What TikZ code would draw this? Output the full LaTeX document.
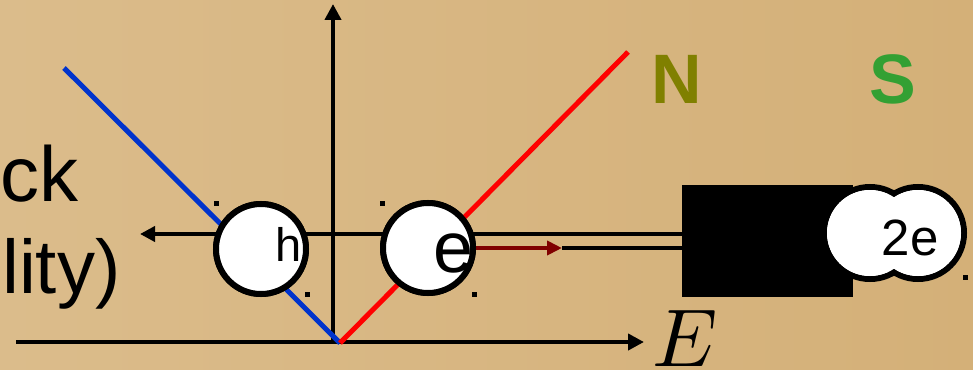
\documentclass[tikz,border=0pt]{standalone}
\usepackage{fontspec}
\setmainfont{Liberation Sans}
\usetikzlibrary{arrows.meta}
\definecolor{bgl}{RGB}{219,188,139}
\definecolor{bgr}{RGB}{212,176,120}
\definecolor{axblue}{RGB}{0,51,204}
\definecolor{darkred}{RGB}{128,0,0}
\definecolor{nolive}{RGB}{128,128,0}
\definecolor{sgreen}{RGB}{51,160,51}
\begin{document}
\begin{tikzpicture}[x=1pt,y=-1pt,
  axis/.style={line width=4.5pt,-{Triangle[length=16pt,width=16pt]}},
  branch/.style={line width=5pt},
  wire/.style={line width=4.5pt},
  particle/.style={circle,draw=black,fill=white,line width=6pt,minimum size=90pt,inner sep=0pt},
  lbl/.style={inner sep=0pt,anchor=base},
  dotmark/.style={fill=black,minimum size=5pt,inner sep=0pt,rectangle}]
\useasboundingbox (0,0) rectangle (973,369);
\shade[left color=bgl,right color=bgr] (0,0) rectangle (973,369);
% axes
\coordinate (o) at (333,343);
\coordinate (ytip) at (333,4);
\coordinate (xo) at (16,342);
\coordinate (xtip) at (644,342);
\draw[axis] (o) -- (ytip);
\draw[axis] (xo) -- (xtip);
% dispersion branches
\coordinate (v) at (340,343);
\coordinate (bl) at (64,68);
\coordinate (rr) at (628,52);
\draw[branch,axblue] (bl) -- (v);
\draw[branch,red] (v) -- (rr);
% box
\node[fill=black,minimum width=171pt,minimum height=112pt,inner sep=0pt] (box) at (767.5,241) {};
% particles
\node[particle] (h) at (261,249) {};
\node[particle] (e) at (428,248) {};
% wires
\coordinate (larr) at (140,234);
\coordinate (w1) at (562,248);
\draw[wire,-{Triangle[length=15pt,width=15pt]}] (box.west |- larr) -- (larr);
\draw[wire] (w1) -- (box.west |- w1);
\draw[wire,darkred,-{Triangle[length=15pt,width=14pt]}] (e.east |- w1) -- (w1);
% redraw particles on top of wires
\node[particle] at (h) {};
\node[particle] at (e) {};
\node[lbl,font=\fontsize{47}{47}\selectfont] (ht) at (289,261) {h};
\node[lbl,font=\fontsize{72}{72}\selectfont] (et) at (454,272) {e};
% Cooper pair
\node[particle,minimum size=92pt] (c1) at (870,233) {};
\node[particle,minimum size=92pt] (c2) at (918,233) {};
\fill[white] (c1) circle[radius=43];
\fill[white] (c2) circle[radius=43];
\node[lbl,font=\fontsize{51}{51}\selectfont] (ct) at (910,255) {2e};
% labels
\node[lbl,anchor=base west,font=\fontsize{78}{78}\selectfont] (t1) at (0,201) {ck};
\node[lbl,anchor=base west,font=\fontsize{76}{76}\selectfont] (t2) at (2,293) {lity)};
\node[lbl,font=\bfseries\fontsize{70}{70}\selectfont,text=nolive] (N) at (677,103) {N};
\node[lbl,font=\bfseries\fontsize{70}{70}\selectfont,text=sgreen] (S) at (893,103) {S};
\node[lbl,scale=8.2] (E) at (685,366) {$E$};
% dots
\node[dotmark] (d1) at (216,203) {};
\node[dotmark] (d2) at (307,294) {};
\node[dotmark] (d3) at (382,203) {};
\node[dotmark] (d4) at (474,294) {};
\node[dotmark] (d5) at (965,277) {};
\end{tikzpicture}
\end{document}
